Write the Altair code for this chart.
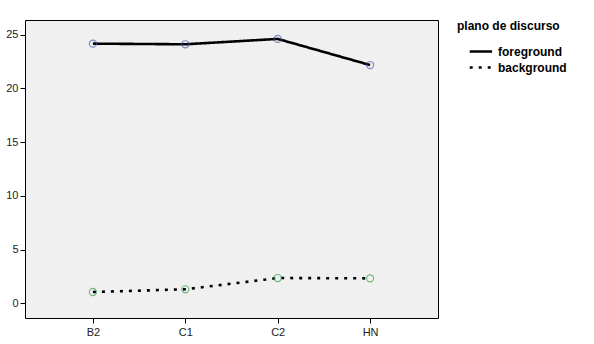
import altair as alt
import pandas as pd

levels = ["B2", "C1", "C2", "HN"]
foreground = [24.16, 24.1, 24.6, 22.17]
background = [1.05, 1.3, 2.35, 2.32]
series = ["foreground", "background"]
point_colors = ["#505ca0", "#35a050"]

rows = []
for lv, f, b in zip(levels, foreground, background):
    rows.append({"nivel": lv, "valor": f, "plano": "foreground"})
    rows.append({"nivel": lv, "valor": b, "plano": "background"})
df = pd.DataFrame(rows)

FONT = "Liberation Sans"

x = alt.X("nivel:N", sort=levels, title=None,
          scale=alt.Scale(type="point", padding=0.735),
          axis=alt.Axis(labelAngle=0, domain=False, ticks=True, tickSize=5,
                        tickColor="black", labelFontSize=11, labelFont=FONT,
                        labelColor="#222", labelPadding=3, grid=False))
y = alt.Y("valor:Q", title=None,
          scale=alt.Scale(domain=[-1.37, 26.36], nice=False, zero=False),
          axis=alt.Axis(values=[0, 5, 10, 15, 20, 25], domain=False, tickSize=5,
                        tickColor="black", labelFontSize=11, labelFont=FONT,
                        labelColor="#222", labelPadding=2, grid=False))

lines = alt.Chart(df).mark_line(color="black", strokeWidth=2.6).encode(
    x=x, y=y,
    strokeDash=alt.StrokeDash("plano:N", sort=series,
        scale=alt.Scale(domain=series, range=[[1, 0], [3, 6]]),
        legend=alt.Legend(title="plano de discurso", orient="none",
                          legendX=432, legendY=1, symbolType="M0.4,0H3.2",
                          symbolStrokeColor="black", symbolStrokeWidth=2.6,
                          symbolSize=256, titleFont=FONT, titleFontSize=12,
                          titleFontWeight="bold", titleColor="black",
                          labelFont=FONT, labelFontSize=12, labelFontWeight="bold",
                          labelColor="black", titlePadding=9, rowPadding=0,
                          labelOffset=22, padding=0,
                          symbolFillColor="transparent")),
    detail="plano:N",
)

layers = [lines]
for s, c in zip(series, point_colors):
    layers.append(
        alt.Chart(df).transform_filter(alt.datum.plano == s)
        .mark_point(filled=False, size=50, strokeWidth=1.2, color=c)
        .encode(x=x, y=y)
    )

chart = alt.layer(*layers).properties(
    width=413, height=298,
    padding={"left": 25, "top": 20, "right": 156, "bottom": 26},
    autosize=alt.AutoSizeParams(type="none"),
    background="white",
).configure_view(fill="#f0f0f0", stroke="black", strokeWidth=1)

chart.save("out.html", embed_options={"renderer": "svg", "actions": False})
